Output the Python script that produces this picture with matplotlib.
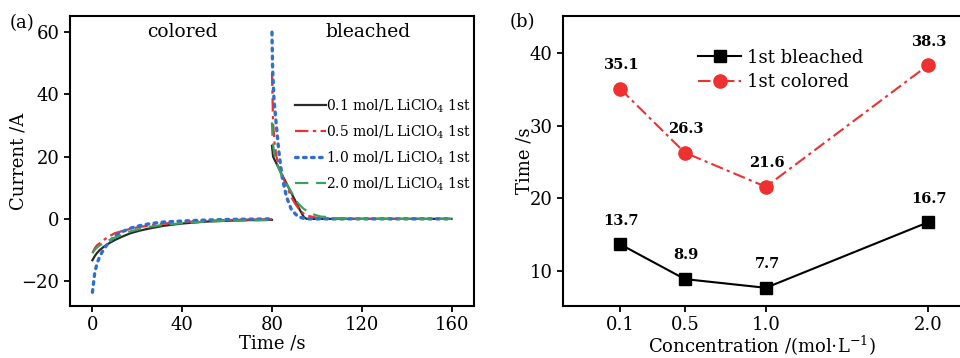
import matplotlib
matplotlib.use("Agg")
import matplotlib.pyplot as plt
from matplotlib.lines import Line2D

# ---- (a) current transients, colored step (0-80 s) and bleached step (80-160 s)
T_COL = [0, 1, 2, 3.3, 5, 7, 10, 13, 17, 21, 26, 32, 40, 50, 60, 70, 80]
I_COL_01 = [-13.3, -12, -11, -10, -9, -8, -6.8, -5.8, -4.6, -3.8, -3.0, -2.2, -1.5, -0.9, -0.6, -0.4, -0.3]
I_COL_05 = [-11, -9.5, -8.5, -7.8, -6.8, -5.8, -4.6, -4.0, -3.2, -2.6, -2.1, -1.5, -1.1, -0.6, -0.4, -0.2, -0.1]
I_COL_10 = [-23.6, -17.5, -14.4, -12, -9.8, -7.8, -5.5, -4.2, -3.0, -2.2, -1.5, -1.0, -0.7, -0.4, -0.2, -0.1, 0]
I_COL_20 = [-11, -10, -9.2, -8.5, -7.8, -7.0, -6.0, -5.2, -4.0, -3.3, -2.5, -1.9, -1.4, -0.9, -0.6, -0.5, -0.4]

T_BLE_01 = [80, 80.5, 81.5, 82.7, 84, 85.7, 87.9, 90.2, 92.4, 94.3, 95.5, 100, 120, 140, 160]
I_BLE_01 = [23.5, 20, 18.5, 16.8, 14.8, 12.5, 9.3, 6.1, 2.9, 0.5, 0, 0, 0, 0, 0]
T_BLE_05 = [80, 80.5, 81.2, 82, 83, 84.2, 85.5, 87.2, 89, 90.2, 92, 93.9, 96, 99, 102, 120, 140, 160]
I_BLE_05 = [47, 31, 24, 20, 17.2, 14.7, 12.2, 9.3, 6.5, 5, 3.2, 1.8, 1.0, 0.5, 0.1, 0, 0, 0]
T_BLE_10 = [80, 80.3, 80.9, 82, 83, 84.5, 86.4, 88.7, 91.6, 95, 100, 120, 140, 160]
I_BLE_10 = [60, 48, 38.3, 29.7, 22, 13.6, 7.2, 2.9, 0.7, 0, 0, 0, 0, 0]
T_BLE_20 = [80, 80.3, 81, 82.7, 85, 87.2, 89.5, 91.6, 94, 96, 99, 102, 105, 108, 120, 140, 160]
I_BLE_20 = [31, 25, 21, 16.8, 13, 10.4, 7.5, 5, 3.3, 2.3, 1.3, 0.7, 0.6, 0.2, 0, 0, 0]

LABELS_A = ["0.1 mol/L LiClO$_4$ 1st", "0.5 mol/L LiClO$_4$ 1st",
            "1.0 mol/L LiClO$_4$ 1st", "2.0 mol/L LiClO$_4$ 1st"]

# ---- (b) response times vs electrolyte concentration
CONC = [0.1, 0.5, 1.0, 2.0]
T_BLEACHED = [13.7, 8.9, 7.7, 16.7]
T_COLORED = [35.1, 26.3, 21.6, 38.3]

BLACK, RED, BLUE, GREEN = "#2a2a2a", "#ee3030", "#2f6fcf", "#3aa060"

plt.rcParams.update({
    "font.family": ["DejaVu Serif"],
    "mathtext.fontset": "dejavuserif",
    "font.size": 13,
    "axes.linewidth": 1.5,
    "xtick.major.width": 1.3, "ytick.major.width": 1.3,
    "xtick.major.size": 4, "ytick.major.size": 4,
    "xtick.labelsize": 13, "ytick.labelsize": 13,
})

fig = plt.figure(figsize=(9.6, 3.58), dpi=100)
axa = fig.add_axes([0.0729, 0.1453, 0.4208, 0.810])
axb = fig.add_axes([0.5865, 0.1453, 0.4135, 0.810])

styles = [
    dict(color=BLACK, ls="-", lw=1.6),
    dict(color=RED, ls=(0, (6, 2, 1.5, 2)), lw=1.6),
    dict(color=BLUE, ls=(0, (0.8, 1.6)), lw=2.4, dash_capstyle="round"),
    dict(color=GREEN, ls=(0, (6, 3.5)), lw=1.6),
]
cols = [I_COL_01, I_COL_05, I_COL_10, I_COL_20]
bles = [(T_BLE_01, I_BLE_01), (T_BLE_05, I_BLE_05),
        (T_BLE_10, I_BLE_10), (T_BLE_20, I_BLE_20)]
for st, ic, (tb, ib) in zip(styles, cols, bles):
    axa.plot(T_COL, ic, **st)
    axa.plot(tb, ib, **st)

axa.set_xlim(-10, 170)
axa.set_ylim(-28, 65.2)
axa.set_xticks([0, 40, 80, 120, 160])
axa.set_yticks([-20, 0, 20, 40, 60])
axa.set_xlabel("Time /s", labelpad=0)
axa.set_ylabel("Current /A", labelpad=-4)
axa.text(40, 60, "colored", ha="center", va="center", fontsize=13.5)
axa.text(123, 60, "bleached", ha="center", va="center", fontsize=13.5)
handles = [Line2D([], [], **st) for st in styles]
axa.legend(handles, LABELS_A, frameon=False, fontsize=10,
           loc="upper left", bbox_to_anchor=(0.557, 0.72),
           handlelength=2.2, handletextpad=0.0, labelspacing=0.62,
           borderpad=0, borderaxespad=0)
fig.text(0.010, 0.922, "(a)", fontsize=13)

# ---- (b)
axb.plot(CONC, T_BLEACHED, color="black", lw=1.5, marker="s", ms=8.5,
         label="1st bleached")
axb.plot(CONC, T_COLORED, color=RED, lw=1.5, ls=(0, (6, 2, 1.5, 2)),
         marker="o", ms=9.5, label="1st colored")
for x, y in zip(CONC, T_BLEACHED):
    axb.annotate(f"{y}", (x, y), xytext=(1, 12), textcoords="offset points",
                 ha="center", va="bottom", fontsize=10.5, fontweight="bold")
for x, y in zip(CONC, T_COLORED):
    axb.annotate(f"{y}", (x, y), xytext=(1, 12), textcoords="offset points",
                 ha="center", va="bottom", fontsize=10.5, fontweight="bold")
axb.set_xlim(-0.252, 2.199)
axb.set_ylim(5.2, 45.1)
axb.set_xticks(CONC)
axb.set_xticklabels(["0.1", "0.5", "1.0", "2.0"])
axb.set_yticks([10, 20, 30, 40])
axb.set_xlabel(r"Concentration /(mol$\cdot$L$^{-1}$)", labelpad=0)
axb.set_ylabel("Time /s", labelpad=-3)
axb.spines["right"].set_visible(False)
axb.legend(frameon=False, fontsize=13, loc="upper left",
           bbox_to_anchor=(0.34, 0.887), handlelength=2.4, handletextpad=0.3,
           labelspacing=0.35, borderpad=0, borderaxespad=0)
fig.text(0.531, 0.925, "(b)", fontsize=13)

fig.savefig("out.png", dpi=100)
